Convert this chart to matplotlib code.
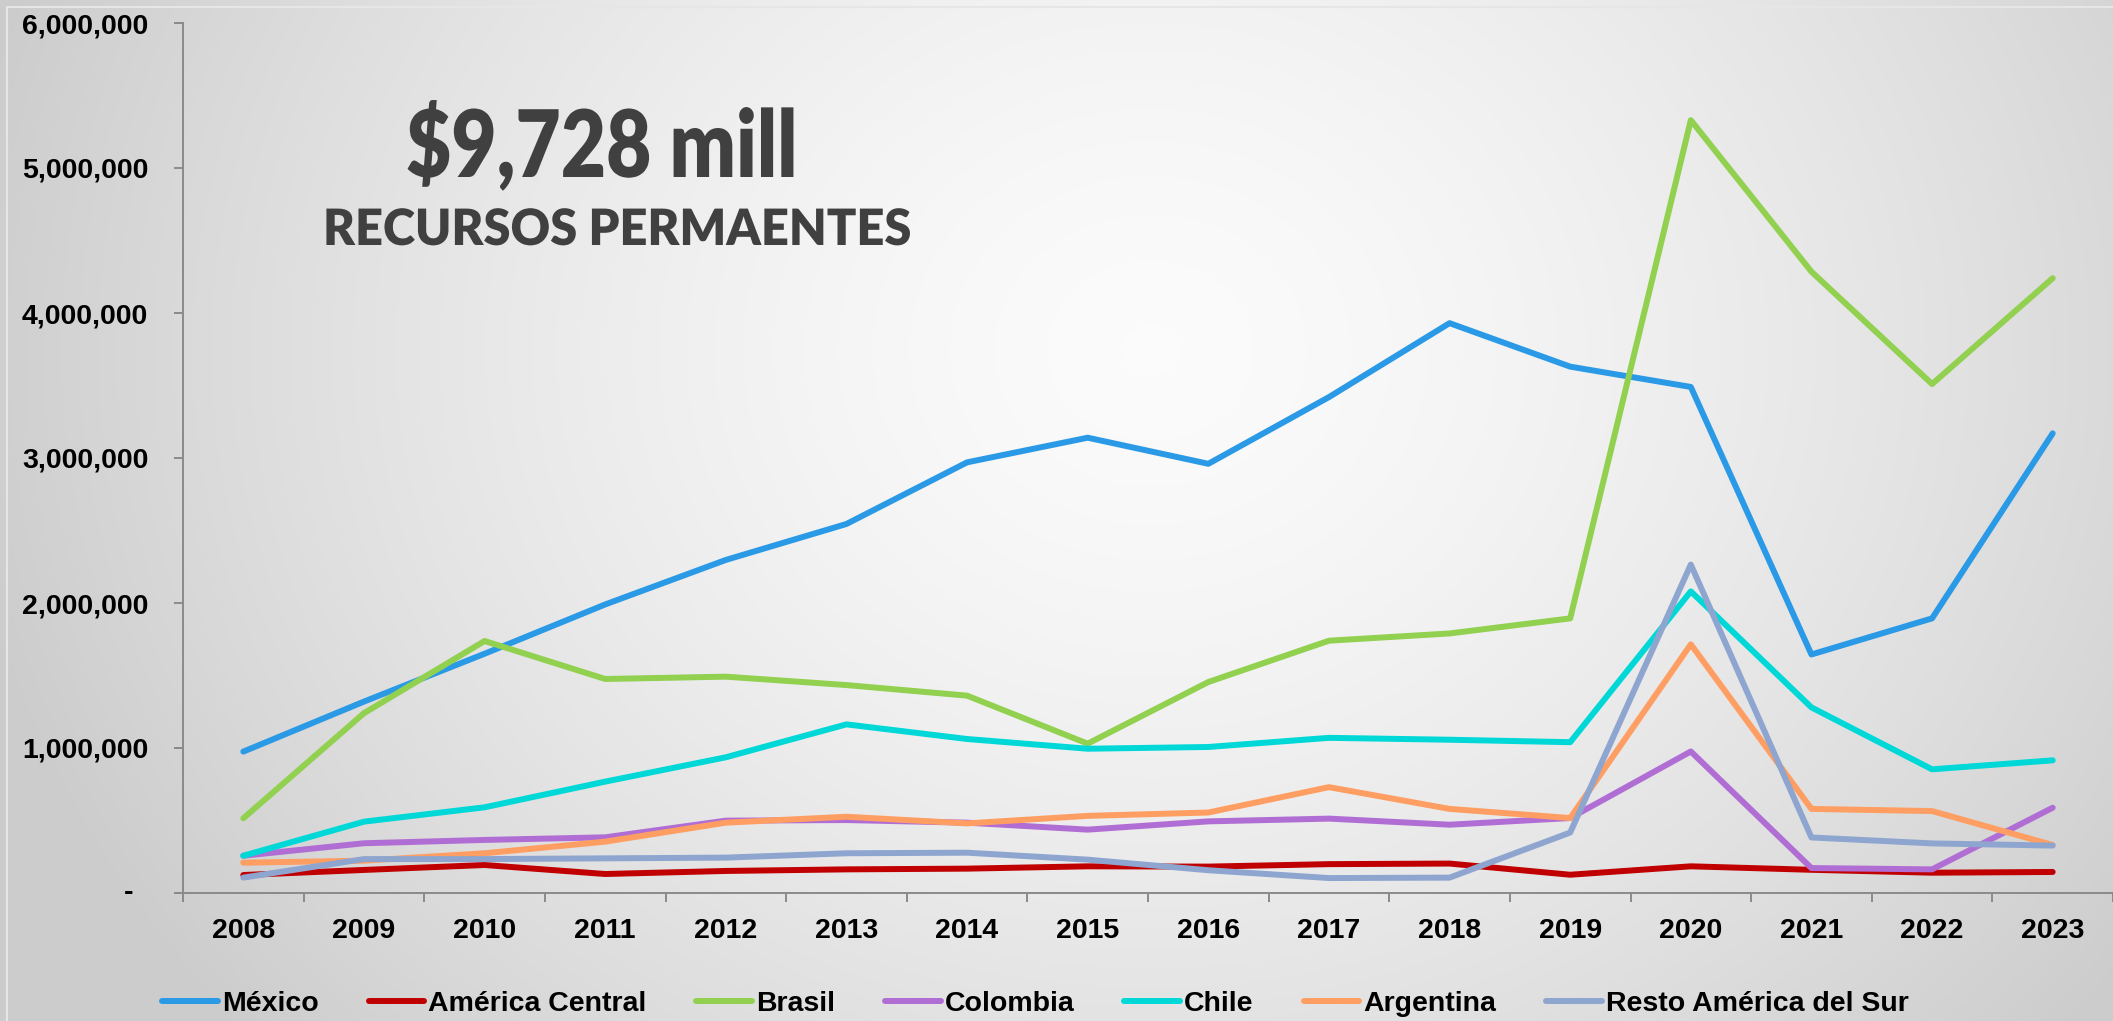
import numpy as np
import matplotlib
matplotlib.use('Agg')
import matplotlib.pyplot as plt
from matplotlib.lines import Line2D
from matplotlib.transforms import Affine2D
from matplotlib.patheffects import AbstractPathEffect

# datos (valores en pesos)
years = ['2008', '2009', '2010', '2011', '2012', '2013', '2014', '2015',
         '2016', '2017', '2018', '2019', '2020', '2021', '2022', '2023']

mexico = [975000, 1320000, 1650000, 1990000, 2297000, 2545000, 2970000, 3140000,
          2960000, 3420000, 3930000, 3630000, 3490000, 1645000, 1894000, 3170000]
america_central = [124000, 159000, 193000, 131000, 152000, 163000, 168000, 184000,
                   182000, 199000, 203000, 126000, 184000, 160000, 140000, 145000]
brasil = [515000, 1240000, 1738000, 1476000, 1492000, 1434000, 1361000, 1030000,
          1455000, 1740000, 1790000, 1894000, 5330000, 4285000, 3510000, 4240000]
colombia = [257000, 343000, 366000, 384000, 499000, 503000, 485000, 437000,
            494000, 513000, 471000, 517000, 976000, 172000, 163000, 588000]
chile = [257000, 492000, 591000, 768000, 936000, 1163000, 1062000, 995000,
         1007000, 1070000, 1057000, 1040000, 2080000, 1280000, 853000, 915000]
argentina = [209000, 223000, 274000, 354000, 485000, 526000, 480000, 532000,
             555000, 730000, 580000, 517000, 1715000, 580000, 565000, 331000]
resto = [106000, 234000, 234000, 239000, 244000, 274000, 278000, 230000,
         157000, 103000, 106000, 417000, 2265000, 383000, 342000, 327000]

series_names = ['México', 'América Central', 'Brasil', 'Colombia', 'Chile',
                'Argentina', 'Resto América del Sur']
series_colors = ['#2B9AE6', '#C00000', '#92D050', '#B06ED4', '#00D8D8',
                 '#FF9E63', '#8EA6CF']
series_values = [mexico, america_central, brasil, colombia, chile, argentina, resto]

ytick_vals = [0, 1000000, 2000000, 3000000, 4000000, 5000000, 6000000]
ytick_labels = ['', '1,000,000', '2,000,000', '3,000,000', '4,000,000',
                '5,000,000', '6,000,000']


class Squeeze(AbstractPathEffect):
    # estrecha el texto en horizontal (la fuente original es condensada)
    def __init__(self, sx):
        super().__init__()
        self.sx = sx

    def draw_path(self, renderer, gc, tpath, affine, rgbFace=None):
        renderer.draw_path(gc, tpath, Affine2D().scale(self.sx, 1) + affine, rgbFace)


W, H = 2113, 1021
fig = plt.figure(figsize=(W / 100, H / 100), dpi=100)

# fondo degradado radial gris
yy, xx = np.mgrid[0:H, 0:W]
d = np.sqrt((xx - 1150) ** 2 + ((yy - 350) * 1.15) ** 2) / 1100
v = np.clip(0.985 - 0.16 * d ** 1.5, 0.80, 1.0)
bg = np.dstack([v, v, v])
fig.figimage(bg, 0, 0, zorder=-10, origin='upper')
fig.patch.set_facecolor('#e0e0e0')
# borde claro (solo arriba e izquierda, el resto queda recortado)
fig.add_artist(Line2D([7 / W, 7 / W, 1], [0, 1 - 7 / H, 1 - 7 / H],
                      transform=fig.transFigure, color='#e6e6e6', linewidth=1.5,
                      zorder=-5))

left = 183 / W
bottom = (H - 893) / H
top = (H - 23) / H
ax = fig.add_axes([left, bottom, 1 - left, top - bottom])
ax.set_facecolor('none')

x = np.arange(len(years))
for vals, name, col in zip(series_values, series_names, series_colors):
    ax.plot(x, vals, color=col, linewidth=4.3, label=name,
            solid_capstyle='round', solid_joinstyle='round')

ax.set_xlim(-0.5, -0.5 + (W - 183) / 122)
ax.set_ylim(0, 6000000)

for s in ['top', 'right']:
    ax.spines[s].set_visible(False)
for s in ['left', 'bottom']:
    ax.spines[s].set_color('#8a8a8a')
    ax.spines[s].set_linewidth(1.4)

tick_font = dict(family=['Liberation Sans', 'DejaVu Sans'], weight='bold', size=20.5)

ax.set_yticks(ytick_vals)
ax.set_yticklabels(ytick_labels, fontdict=tick_font)
ax.tick_params(axis='y', length=6.5, width=1.4, color='#8a8a8a', pad=18.5)
ax.annotate('-', xy=(0, 0), xycoords=('axes fraction', 'data'),
            xytext=(-50, 0), textcoords='offset pixels',
            ha='right', va='center', **tick_font)

ax.set_xticks(x)
ax.set_xticklabels(years, fontdict=tick_font)
ax.set_xticks(np.arange(-0.5, 16, 1), minor=True)
ax.tick_params(axis='x', which='major', length=0, pad=18)
ax.tick_params(axis='x', which='minor', length=6.5, width=1.4, color='#8a8a8a')

# leyenda abajo
leg = ax.legend(loc='center', bbox_to_anchor=(0.490, 17 / H),
                bbox_transform=fig.transFigure, ncol=7, frameon=False,
                prop=dict(family=['Liberation Sans', 'DejaVu Sans'], weight='bold', size=20.5),
                handlelength=1.95, handletextpad=0.15, columnspacing=1.75)
for ln in leg.get_lines():
    ln.set_linewidth(4.3)

# titulo dentro del grafico
title_fam = ['Lato', 'DejaVu Sans']
fig.text(406 / W, 1 - 177 / H, '$9,728 mill', ha='left', va='baseline',
         fontsize=67, fontweight='heavy', family=title_fam, color='#404040',
         parse_math=False, path_effects=[Squeeze(0.84)])
fig.text(323 / W, 1 - 245 / H, 'RECURSOS PERMAENTES', ha='left', va='baseline',
         fontsize=36, fontweight='heavy', family=title_fam, color='#404040',
         path_effects=[Squeeze(0.975)])

fig.savefig('out.png', dpi=100, facecolor=fig.get_facecolor())
